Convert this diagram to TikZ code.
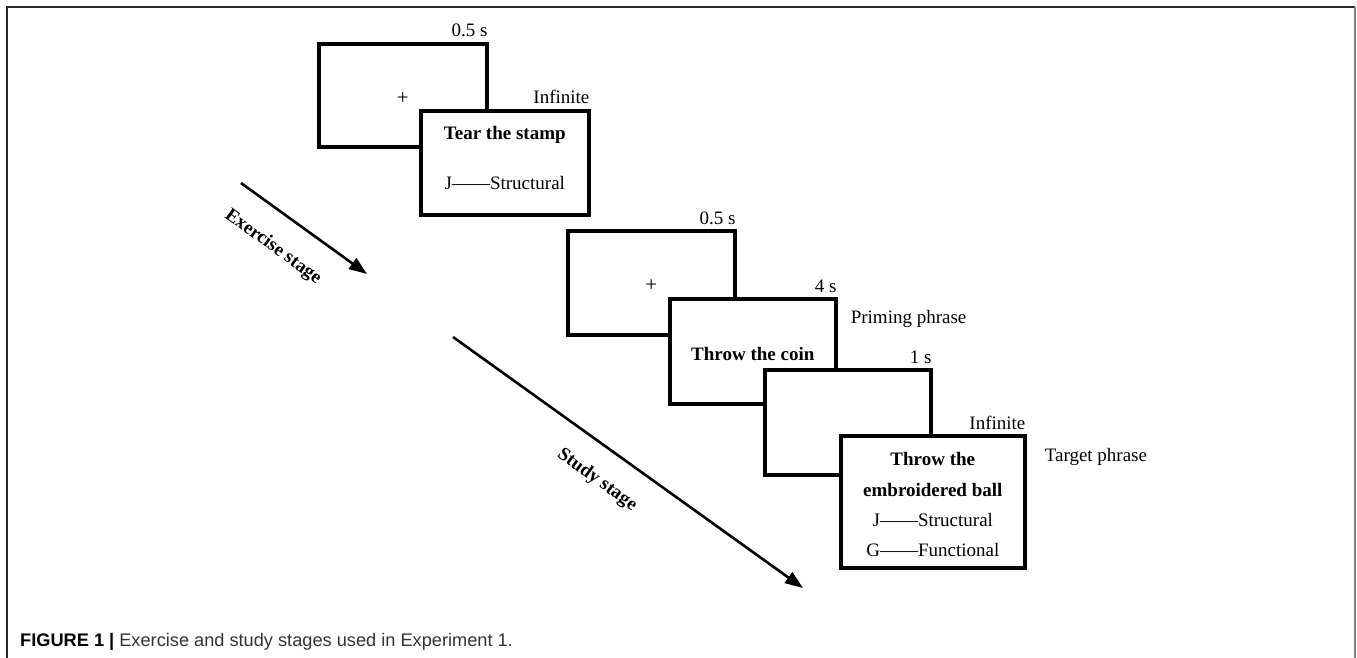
\documentclass[tikz,border=0pt]{standalone}
\usepackage{fontspec}
\setmainfont{Liberation Serif}
\newfontfamily\capfont{Liberation Sans}
\usetikzlibrary{arrows.meta,calc}
\begin{document}
\begin{tikzpicture}[x=1pt,y=-1pt,
  scr/.style={draw, line width=3.6pt, fill=white, inner sep=0pt, anchor=north west},
  lbl/.style={font=\fontsize{19}{22}\selectfont, inner sep=0pt},
  bld/.style={font=\fontsize{19}{22}\selectfont\bfseries, inner sep=0pt},
  tlab/.style={lbl, anchor=base east},
  slab/.style={lbl, anchor=west},
  arr/.style={line width=2.6pt, -{Triangle[length=18pt,width=13pt]}},
]
\useasboundingbox (0,0) rectangle (1357,658);
% frame
\draw[line width=1.5pt, black!85] (7,658) -- (7,7) -- (1355,7);
\draw[line width=2pt, gray] (1355,7) -- (1355,658);

% exercise stage
\node[scr, minimum width=168pt, minimum height=103pt] (b1) at (317,42) {};
\node[lbl, font=\fontsize{21}{24}\selectfont] (p1) at ($(b1.center)+(0,3)$) {+};
\node[tlab] (d1) at ($(b1.north east)+(-1,-5)$) {0.5 s};
\node[scr, minimum width=168pt, minimum height=104pt] (b2) at (419,109) {};
\node[tlab] (d2) at ($(b2.north east)+(-1,-5)$) {Infinite};
\node[bld] (t2) at ($(b2.north)+(0,26)$) {Tear the stamp};
\node[lbl] (k2) at ($(b2.north)+(0,74)$) {J——Structural};

% study stage
\node[scr, minimum width=167pt, minimum height=104pt] (b3) at (566,229) {};
\node[lbl, font=\fontsize{21}{24}\selectfont] (p3) at ($(b3.center)+(0,3)$) {+};
\node[tlab] (d3) at ($(b3.north east)+(-1,-5)$) {0.5 s};
\node[scr, minimum width=166pt, minimum height=105pt] (b4) at (668,297) {};
\node[tlab] (d4) at ($(b4.north east)+(-1,-5)$) {4 s};
\node[slab] (s4) at ($(b4.north east)+(13,22)$) {Priming phrase};
\node[bld] (t4) at ($(b4.north)+(0,57)$) {Throw the coin};
\node[scr, minimum width=166pt, minimum height=105pt] (b5) at (763,368) {};
\node[tlab] (d5) at ($(b5.north east)+(-1,-5)$) {1 s};
\node[scr, minimum width=184pt, minimum height=132pt] (b6) at (839,434) {};
\node[tlab] (d6) at ($(b6.north east)+(-1,-5)$) {Infinite};
\node[slab] (s6) at ($(b6.north east)+(18,23)$) {Target phrase};
\node[bld] (t6a) at ($(b6.north)+(0,25)$) {Throw the};
\node[bld] (t6b) at ($(b6.north)+(0,56)$) {embroidered ball};
\node[lbl] (k6a) at ($(b6.north)+(0,86)$) {J——Structural};
\node[lbl] (k6b) at ($(b6.north)+(0,116)$) {G——Functional};

% stage arrows
\coordinate (e1) at (241,183);
\coordinate (e2) at (367,274);
\draw[arr] (e1) -- (e2);
\node[bld, rotate=-36] (ex) at (273,247) {Exercise stage};
\coordinate (f1) at (453,337);
\coordinate (f2) at (803,588);
\draw[arr] (f1) -- (f2);
\node[bld, rotate=-36] (st) at (597,480) {Study stage};

% caption
\node[anchor=base west, inner sep=0pt, font=\capfont\fontsize{18.2}{21}\selectfont] (cap) at (20,646)
  {\textbf{FIGURE 1} \textbf{|} {\color{black!80}Exercise and study stages used in Experiment 1.}};
\end{tikzpicture}
\end{document}
